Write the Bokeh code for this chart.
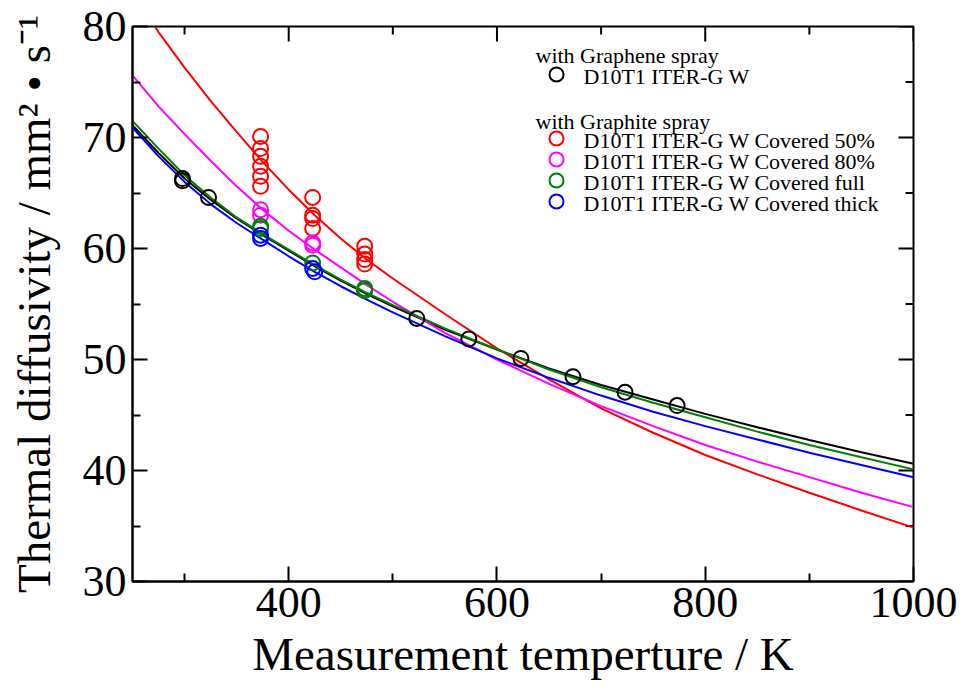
from bokeh.plotting import figure
from bokeh.models import FixedTicker, Range1d, Label
from bokeh.embed import file_html
from bokeh.resources import INLINE

# ---------------- data ----------------
curve_T = [250, 275, 300, 325, 350, 375, 400, 425, 450, 475, 500, 550, 600,
           650, 700, 750, 800, 850, 900, 950, 1000]
curve_black = [71.1, 68.6, 66.3, 64.4, 62.7, 61.2, 59.8, 58.4, 57.1, 55.9, 54.8,
               52.7, 50.9, 49.2, 47.7, 46.4, 45.1, 43.9, 42.75, 41.65, 40.6]
curve_red = [82.9, 79.5, 76.3, 73.3, 70.5, 67.8, 65.3, 63.0, 60.9, 59.0, 57.3,
             54.1, 51.0, 48.2, 45.6, 43.4, 41.4, 39.65, 38.0, 36.4, 34.85]
curve_magenta = [75.6, 72.8, 70.3, 67.9, 65.6, 63.5, 61.6, 59.9, 58.3, 56.7, 55.2,
                 52.4, 50.0, 47.8, 45.8, 44.0, 42.3, 40.8, 39.4, 38.0, 36.7]
curve_green = [71.5, 69.0, 66.6, 64.6, 62.8, 61.3, 59.9, 58.5, 57.2, 56.0, 54.9,
               52.8, 50.9, 49.1, 47.5, 46.1, 44.8, 43.5, 42.3, 41.2, 40.1]
curve_blue = [70.9, 68.3, 66.0, 64.0, 62.3, 60.8, 59.3, 57.9, 56.6, 55.4, 54.25,
              52.1, 50.1, 48.35, 46.75, 45.3, 44.0, 42.8, 41.6, 40.5, 39.4]

black_T = [298, 298, 323, 523, 573, 623, 673, 723, 773]
black_v = [66.1, 66.3, 64.6, 53.7, 51.85, 50.1, 48.45, 47.05, 45.85]
red_T = [373, 373, 373, 373, 373, 373, 423, 423, 423, 423, 473, 473, 473, 473]
red_v = [70.1, 69.0, 68.3, 67.4, 66.5, 65.6, 64.6, 63.0, 62.7, 61.8, 60.2, 59.5, 59.0, 58.6]
magenta_T = [373, 373, 423, 423, 473]
magenta_v = [63.5, 63.0, 60.5, 60.3, 56.3]
green_T = [373, 373, 423, 473, 473]
green_v = [62.0, 61.8, 58.7, 56.2, 56.4]
blue_T = [373, 373, 423, 425]
blue_v = [61.2, 60.9, 58.2, 57.9]

x_major = [400, 600, 800, 1000]
x_minor = [300, 500, 700, 900]
y_major = [30, 40, 50, 60, 70, 80]
y_minor = [35, 45, 55, 65, 75]

x_title = "Measurement temperture / K"
y_title = "Thermal diffusivity / mm\u00b2 \u2022 s\u207b\u00b9"
heading_1 = "with Graphene spray"
heading_2 = "with Graphite spray"
series_labels = ["D10T1 ITER-G W",
                 "D10T1 ITER-G W Covered 50%",
                 "D10T1 ITER-G W Covered 80%",
                 "D10T1 ITER-G W Covered full",
                 "D10T1 ITER-G W Covered thick"]
series_colors = ["black", "#ff0000", "#ff00ff", "#008000", "#0000ff"]

FONT = "Liberation Serif"
X0, X1, Y0, Y1 = 250, 1000, 30, 80
W, H = 963, 690
FL, FR, FT, FB = 132, 913, 26, 581   # frame edges in picture px


def to_data(sx, sy):
    return (X0 + (sx - FL) * (X1 - X0) / (FR - FL),
            Y1 - (sy - FT) * (Y1 - Y0) / (FB - FT))


p = figure(width=W, height=H, output_backend="svg", toolbar_location=None,
           x_range=Range1d(X0, X1), y_range=Range1d(Y0, Y1),
           min_border_left=FL, min_border_right=W - FR,
           min_border_top=FT, min_border_bottom=H - FB,
           x_axis_label=x_title, y_axis_label=y_title)
p.grid.visible = False
p.outline_line_color = "black"
p.outline_line_width = 2
p.background_fill_color = "white"
p.border_fill_color = "white"


def style_axis(ax, ticks, minor):
    ax.ticker = FixedTicker(ticks=ticks, minor_ticks=minor)
    ax.axis_line_width = 2
    ax.axis_line_color = "black"
    ax.major_tick_in = 15
    ax.major_tick_out = 0
    ax.minor_tick_in = 8
    ax.minor_tick_out = 0
    ax.major_tick_line_width = 2
    ax.minor_tick_line_width = 2
    ax.major_tick_line_color = "black"
    ax.minor_tick_line_color = "black"
    ax.major_label_text_font = FONT
    ax.major_label_text_color = "black"
    ax.major_label_text_font_size = "44px"
    ax.axis_label_text_font = FONT
    ax.axis_label_text_font_style = "normal"
    ax.axis_label_text_color = "black"
    ax.axis_label_text_font_size = "47px"


style_axis(p.xaxis[0], x_major, x_minor)
style_axis(p.yaxis[0], y_major, y_minor)
p.xaxis[0].major_label_standoff = 6
p.xaxis[0].axis_label_standoff = 8
p.yaxis[0].major_label_standoff = 6
p.yaxis[0].axis_label_standoff = 20

# ticks on the top and right edges of the frame
p.ray(x=x_major, y=Y1, length=15, length_units="screen", angle=-90,
      angle_units="deg", line_color="black", line_width=2)
p.ray(x=x_minor, y=Y1, length=8, length_units="screen", angle=-90,
      angle_units="deg", line_color="black", line_width=2)
p.ray(x=X1, y=y_major, length=15, length_units="screen", angle=180,
      angle_units="deg", line_color="black", line_width=2)
p.ray(x=X1, y=y_minor, length=8, length_units="screen", angle=180,
      angle_units="deg", line_color="black", line_width=2)

# ---------------- curves ----------------
for vals, col in [(curve_black, "black"), (curve_red, "#ff0000"),
                  (curve_magenta, "#ff00ff"), (curve_green, "#008000"),
                  (curve_blue, "#0000ff")]:
    p.line(curve_T, vals, line_color=col, line_width=2)

# ---------------- points ----------------
for xs, ys, col in [(red_T, red_v, "#ff0000"), (magenta_T, magenta_v, "#ff00ff"),
                    (green_T, green_v, "#008000"), (blue_T, blue_v, "#0000ff"),
                    (black_T, black_v, "black")]:
    p.scatter(xs, ys, marker="circle", size=15, fill_color=None,
              line_color=col, line_width=2)

# ---------------- legend (drawn by hand) ----------------
LEG_FS = "22px"
circ_x = 556
text_x = 583
head_x = 535
rows = [(heading_1, None, None, 55),
        (None, series_labels[0], series_colors[0], 74),
        (heading_2, None, None, 121),
        (None, series_labels[1], series_colors[1], 138),
        (None, series_labels[2], series_colors[2], 159),
        (None, series_labels[3], series_colors[3], 180),
        (None, series_labels[4], series_colors[4], 201)]
for head, lab, col, sy in rows:
    if head is not None:
        hx, hy = to_data(head_x, sy)
        p.add_layout(Label(x=hx, y=hy, text=head, text_font=FONT,
                           text_font_size=LEG_FS, text_baseline="middle",
                           text_align="left", text_color="black"))
    else:
        cx, cy = to_data(circ_x, sy)
        p.scatter([cx], [cy], marker="circle", size=14, fill_color=None,
                  line_color=col, line_width=2)
        tx, ty = to_data(text_x, sy + 2)
        p.add_layout(Label(x=tx, y=ty, text=lab, text_font=FONT,
                           text_font_size=LEG_FS, text_baseline="middle",
                           text_align="left", text_color="black"))

open("out.html", "w").write(file_html(p, INLINE))
